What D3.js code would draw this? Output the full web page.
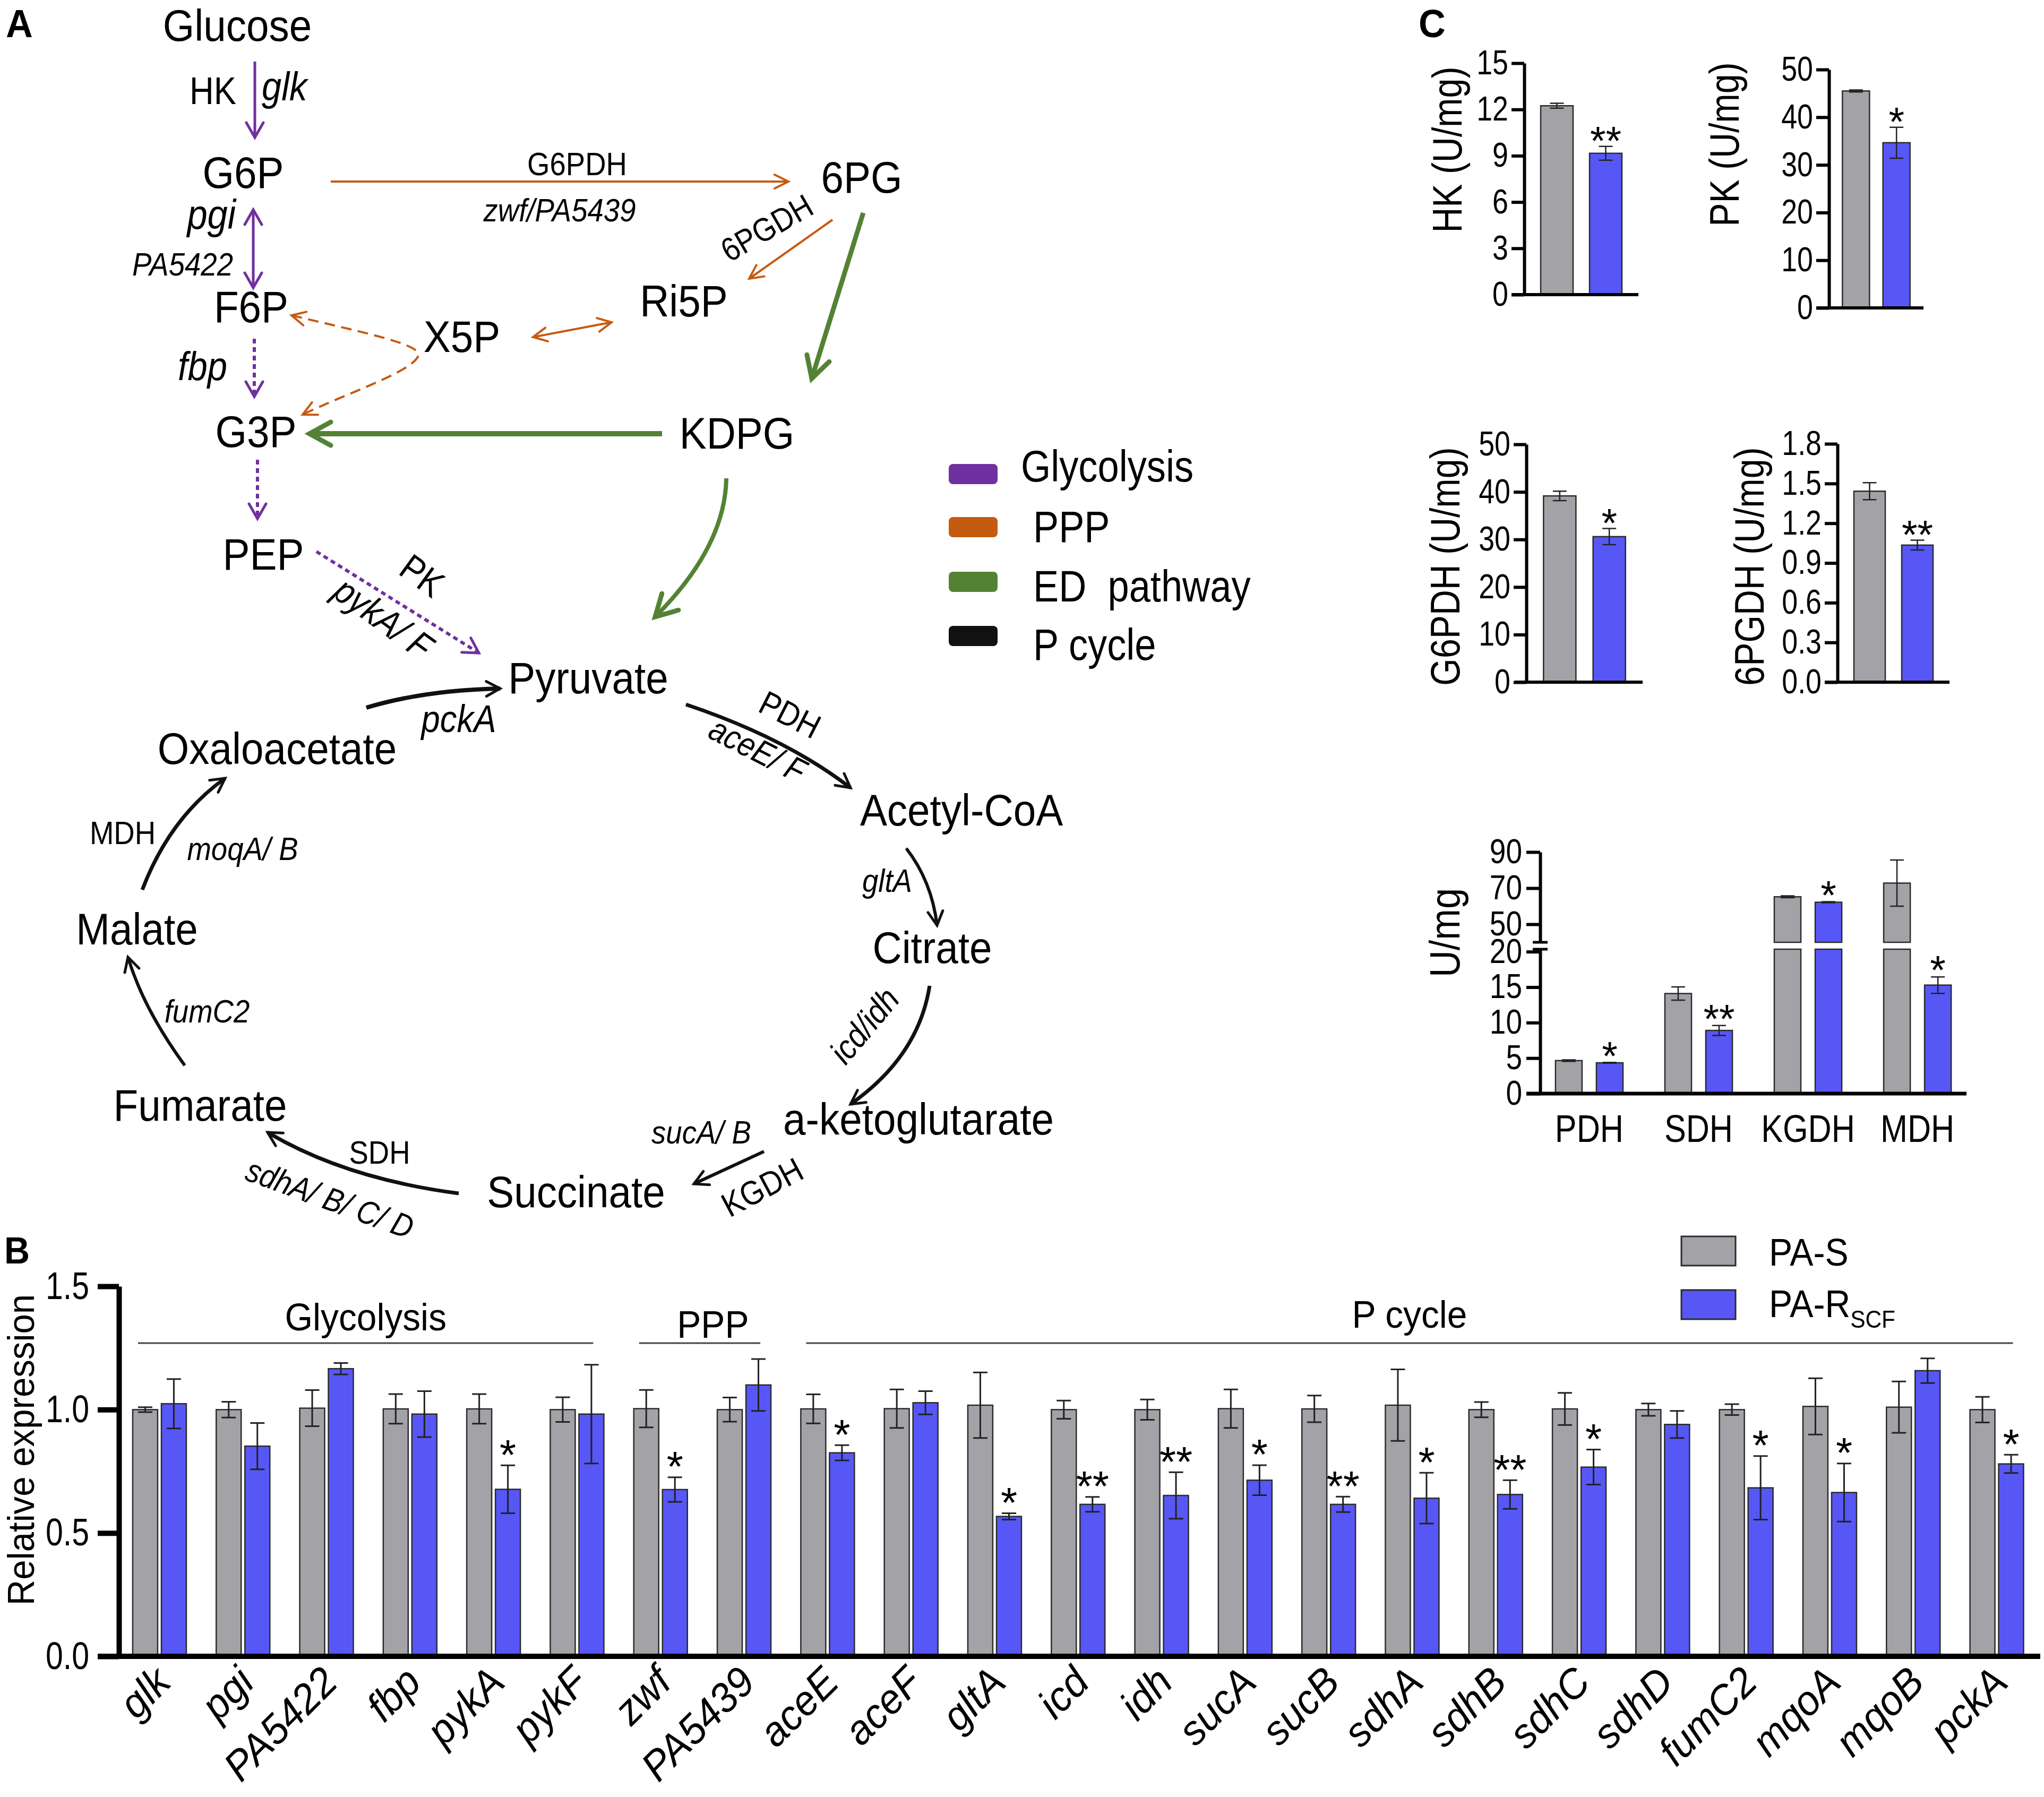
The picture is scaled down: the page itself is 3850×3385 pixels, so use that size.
<!DOCTYPE html>
<html><head><meta charset="utf-8">
<script src="https://cdn.jsdelivr.net/npm/d3@7"></script>
<style>
body{margin:0;background:#fff}
svg{display:block}
text{font-family:"Liberation Sans",Arial,Helvetica,sans-serif}
</style>
</head><body>
<svg id="fig" width="3850" height="3385"></svg>
<script>
// ---------------- DATA ----------------
// Panel B: relative expression
const genes = ["glk","pgi","PA5422","fbp","pykA","pykF","zwf","PA5439","aceE","aceF","gltA","icd","idh","sucA","sucB","sdhA","sdhB","sdhC","sdhD","fumC2","mqoA","mqoB","pckA"];
const series = ["PA-S","PA-R"];
const paS    = [1.0,1.0,1.006,1.003,1.003,1.0,1.004,1.0,1.003,1.004,1.018,1.0,1.0,1.004,1.003,1.018,1.0,1.003,1.0,1.0,1.013,1.01,1.0];
const paSErr = [0.01,0.032,0.073,0.06,0.06,0.05,0.076,0.049,0.059,0.078,0.133,0.037,0.041,0.078,0.054,0.145,0.031,0.065,0.025,0.022,0.114,0.104,0.052];
const paR    = [1.024,0.852,1.166,0.982,0.677,0.982,0.676,1.10,0.825,1.028,0.567,0.616,0.652,0.714,0.616,0.641,0.656,0.767,0.94,0.683,0.664,1.158,0.78];
const paRErr = [0.10,0.094,0.023,0.093,0.097,0.2,0.05,0.105,0.031,0.047,0.013,0.03,0.094,0.061,0.031,0.103,0.058,0.071,0.055,0.129,0.118,0.05,0.037];
const paRSig = ["","","","","*","","*","","*","","*","**","**","*","**","*","**","*","","*","*","","*"];
const bTicks = [0,0.5,1.0,1.5];
const bGroups = [["Glycolysis","glk","pykF"],["PPP","zwf","PA5439"],["P cycle","aceE","pckA"]];

// Panel C: enzyme activities (U/mg)
const cEnzymes = ["HK","PK","G6PDH","6PGDH"];
const cS    = [12.24,45.5,39.16,1.442];
const cSErr = [0.16,0.2,1.0,0.064];
const cR    = [9.16,34.65,30.6,1.035];
const cRErr = [0.45,3.25,1.7,0.037];
const cSig  = ["**","*","*","**"];
const cTicks = [[0,3,6,9,12,15],[0,10,20,30,40,50],[0,10,20,30,40,50],[0,0.3,0.6,0.9,1.2,1.5,1.8]];

const kCats = ["PDH","SDH","KGDH","MDH"];
const kS    = [4.65,14.1,65.2,72.8];
const kSErr = [0.1,0.93,0.5,12.8];
const kR    = [4.34,8.9,62.2,15.29];
const kRErr = [0.05,0.7,0.3,1.16];
const kSig  = ["*","**","*","*"];
const kLowTicks = [0,5,10,15,20];
const kUpTicks = [50,70,90];

// Panel A: pathway labels
const nodeNames = ["Glucose","G6P","6PG","F6P","X5P","Ri5P","G3P","KDPG","PEP","Pyruvate","Oxaloacetate","Acetyl-CoA","Citrate","Malate","a-ketoglutarate","Fumarate","Succinate"];
const legendA = ["Glycolysis","PPP","ED\u00a0 pathway","P cycle"];

// ---------------- STYLE / LAYOUT ----------------
const GRAY = "#a3a3a7", BLUE = "#5757f6", EDGE = "#2b2b2b";
const PURPLE = "#7030a0", ORANGE = "#c55a11", GREEN = "#548235", BLACK = "#111";
const svg = d3.select("#fig");
svg.append("rect").attr("width",3850).attr("height",3385).attr("fill","#fff");

function T(g, x, y, str, o = {}) {
  let tr = `translate(${x},${y})`;
  if (o.rot) tr += ` rotate(${o.rot})`;
  tr += ` scale(${o.sx ?? 0.9},1)`;
  const t = g.append("text").attr("transform", tr)
    .attr("font-size", o.size || 60)
    .attr("text-anchor", o.anchor || "middle")
    .attr("font-style", o.italic ? "italic" : "normal")
    .attr("font-weight", o.bold ? "bold" : "normal")
    .attr("fill", o.fill || "#000");
  if (o.dy) t.attr("dy", o.dy);
  t.text(str);
  return t;
}

// ---------------- MARKERS ----------------
const defs = svg.append("defs");
function marker(id, color, len, half, sw) {
  defs.append("marker").attr("id", id)
    .attr("viewBox", `${-sw} ${-sw} ${len + 2*sw} ${2*half + 2*sw}`)
    .attr("refX", len).attr("refY", half)
    .attr("markerWidth", len + 2*sw).attr("markerHeight", 2*half + 2*sw)
    .attr("markerUnits", "userSpaceOnUse")
    .attr("orient", "auto-start-reverse")
    .append("path").attr("d", `M0,0 L${len},${half} L0,${2*half}`)
    .attr("fill", "none").attr("stroke", color).attr("stroke-width", sw)
    .attr("stroke-dasharray", "none").attr("stroke-linecap", "round").attr("stroke-linejoin", "miter");
}
marker("mP", PURPLE, 28, 16, 5);
marker("mO", ORANGE, 26, 13, 4);
marker("mG", GREEN, 40, 22, 9);
marker("mK", BLACK, 26, 14, 5);

// ---------------- PANEL A ----------------
const gA = svg.append("g");
const nodePos = [[447,77],[458,354],[1623,363],[473,607],[870,663],[1288,596],[482,842],[1388,845],[496,1073],[1108,1306],[522,1439],[1811,1555],[1756,1814],[258,1779],[1730,2137],[377,2111],[1085,2274]];
nodeNames.forEach((n,i) => T(gA, nodePos[i][0], nodePos[i][1], n, {size:84, sx:0.91}));

const arrows = [
  // [path, color, width, marker, dash, double]
  ["M480,116 L480,259", PURPLE, 5, "mP", null, false],
  ["M623,342 L1485,342", ORANGE, 4, "mO", null, false],
  ["M1568,414 L1411,525", ORANGE, 4, "mO", null, false],
  ["M1626,401 L1529,713", GREEN, 9, "mG", null, false],
  ["M477,395 L477,542", PURPLE, 5, "mP", null, true],
  ["M479,638 L479,747", PURPLE, 6, "mP", "9,7", false],
  ["M549,594 C700,630 800,650 787,672 C772,702 650,742 570,781", ORANGE, 4, "mO", "20,12", true],
  ["M1004,635 L1152,607", ORANGE, 4, "mO", null, true],
  ["M1247,817 L583,817", GREEN, 10, "mG", null, false],
  ["M485,866 L485,977", PURPLE, 6, "mP", "9,7", false],
  ["M1368,901 Q1366,1030 1234,1162", GREEN, 8, "mG", null, false],
  ["M596,1039 L902,1230", PURPLE, 6, "mP", "9,7", false],
  ["M690,1333 Q800,1300 942,1297", BLACK, 8, "mK", null, false],
  ["M1292,1327 Q1480,1390 1602,1484", BLACK, 7, "mK", null, false],
  ["M1707,1598 Q1755,1660 1765,1743", BLACK, 6, "mK", null, false],
  ["M1751,1857 Q1730,1990 1602,2080", BLACK, 7, "mK", null, false],
  ["M1439,2169 L1307,2230", BLACK, 6, "mK", null, false],
  ["M864,2248 Q650,2220 504,2133", BLACK, 7, "mK", null, false],
  ["M348,2007 Q270,1900 241,1803", BLACK, 6, "mK", null, false],
  ["M268,1676 Q320,1540 424,1466", BLACK, 7, "mK", null, false]
];
arrows.forEach(a => {
  const p = gA.append("path").attr("d", a[0]).attr("fill","none").attr("stroke", a[1])
    .attr("stroke-width", a[2]).attr("marker-end", `url(#${a[3]})`);
  if (a[4]) p.attr("stroke-dasharray", a[4]);
  if (a[5]) p.attr("marker-start", `url(#${a[3]})`);
});

// enzyme / gene labels [text, x, y, italic, rot, anchor, size]
const enzLabels = [
  ["HK",401,196,false,0,"middle",72],
  ["glk",493,189,true,0,"start",76],
  ["G6PDH",1087,330,false,0,"middle",62],
  ["zwf/PA5439",1054,417,true,0,"middle",62],
  ["6PGDH",1455,448,false,-30,"middle",62],
  ["pgi",444,431,true,0,"end",78],
  ["PA5422",439,519,true,0,"end",62],
  ["fbp",428,716,true,0,"end",76],
  ["PK",781,1104,false,36,"middle",70],
  ["pykA/ F",708,1184,true,36,"middle",70],
  ["pckA",864,1379,true,0,"middle",72],
  ["PDH",1478,1366,false,27,"middle",64],
  ["aceE/ F",1417,1432,true,27,"middle",64],
  ["gltA",1671,1680,true,0,"middle",62],
  ["icd/idh",1645,1946,true,-50,"middle",64],
  ["sucA/ B",1321,2154,true,0,"middle",62],
  ["KGDH",1446,2256,false,-28,"middle",64],
  ["SDH",715,2192,false,0,"middle",62],
  ["sdhA/ B/ C/ D",614,2278,true,20,"middle",62],
  ["fumC2",390,1926,true,0,"middle",62],
  ["MDH",231,1590,false,0,"middle",62],
  ["moqA/ B",457,1620,true,0,"middle",62]
];
enzLabels.forEach(l => T(gA, l[1], l[2], l[0], {size:l[6], sx:0.88, italic:l[3], rot:l[4], anchor:l[5]}));

// Legend A
const legACol = [PURPLE, ORANGE, GREEN, BLACK];
const legAY = [874, 974, 1077, 1179];
const legATX = [1923, 1946, 1946, 1946];
const legATY = [907, 1021, 1133, 1243];
legendA.forEach((n,i) => {
  gA.append("rect").attr("x", 1787).attr("y", legAY[i]).attr("width", 92).attr("height", 38)
    .attr("rx", 8).attr("fill", legACol[i]);
  T(gA, legATX[i], legATY[i], n, {size:84, sx:0.86, anchor:"start"});
});

// ---------------- PANEL B ----------------
const gB = svg.append("g");
const yB = d3.scaleLinear().domain([0,1.5]).range([3120,2423]);
const xB = d3.scaleBand().domain(genes).range([224,3837.5]).paddingInner(0.358).paddingOuter(0.165);
const xBs = d3.scaleBand().domain(series).range([0, xB.bandwidth()]).paddingInner(0.13);
const recB = genes.flatMap((g,i) => [
  {g, s:"PA-S", v:paS[i], e:paSErr[i], sig:""},
  {g, s:"PA-R", v:paR[i], e:paRErr[i], sig:paRSig[i]}
]);
function drawBars(g, recs, xOuter, xInner, y, capW, sw, starSize, starGap) {
  const bw = xInner.bandwidth();
  recs.forEach(r => {
    const x = xOuter(r.g) + xInner(r.s);
    const cx = x + bw/2;
    g.append("rect").attr("x", x).attr("y", y(r.v)).attr("width", bw)
      .attr("height", y.range()[0] - y(r.v))
      .attr("fill", r.s === "PA-S" ? GRAY : BLUE).attr("stroke", EDGE).attr("stroke-width", 2.5);
    const y1 = y(r.v + r.e), y2 = y(r.v - r.e);
    g.append("path").attr("d", `M${cx},${y1}V${y2}M${cx-capW/2},${y1}H${cx+capW/2}M${cx-capW/2},${y2}H${cx+capW/2}`)
      .attr("stroke", "#222").attr("stroke-width", sw).attr("fill","none");
    if (r.sig) T(g, cx, y1 - starGap + 0.57*starSize, r.sig, {size:starSize, sx:1});
  });
}
drawBars(gB, recB, xB, xBs, yB, 27, 3, 80, 38);

// axes B
const axB = gB.append("g").attr("transform","translate(224,0)")
  .call(d3.axisLeft(yB).tickValues(bTicks).tickFormat(d3.format(".1f")).tickSize(40).tickSizeOuter(0).tickPadding(14));
axB.select(".domain").attr("stroke-width",10).attr("stroke","#000");
axB.selectAll(".tick line").attr("stroke-width",10).attr("stroke","#000");
axB.selectAll(".tick text").attr("font-size",72).attr("font-family",null).attr("fill","#000")
  .attr("transform","scale(0.82,1)").attr("x", -56/0.82);
gB.append("line").attr("x1",184).attr("x2",3843).attr("y1",3120).attr("y2",3120).attr("stroke","#000").attr("stroke-width",10);
T(gB, 64, 2731, "Relative expression", {size:70, sx:0.96, rot:-90});

// gene labels
genes.forEach(g => T(gB, xB(g) + xB.bandwidth()/2 + 25, 3173, g, {size:78, sx:0.97, italic:true, rot:-45, anchor:"end"}));

// group lines and labels
const grpY = [2506, 2520, 2501];
bGroups.forEach((gr,i) => {
  const x1 = xB(gr[1]) + 10, x2 = xB(gr[2]) + xB.bandwidth() - 20;
  gB.append("line").attr("x1",x1).attr("x2",x2).attr("y1",2530).attr("y2",2530).attr("stroke","#444").attr("stroke-width",3);
  T(gB, (x1+x2)/2 + (i===1?25:0), grpY[i], gr[0], {size:72, sx:0.94});
});

// legend B
gB.append("rect").attr("x",3167).attr("y",2329).attr("width",102).attr("height",55).attr("fill",GRAY).attr("stroke",EDGE).attr("stroke-width",3);
gB.append("rect").attr("x",3167).attr("y",2430).attr("width",102).attr("height",55).attr("fill",BLUE).attr("stroke",EDGE).attr("stroke-width",3);
T(gB, 3332, 2384, "PA-S", {size:72, sx:0.92, anchor:"start"});
const lr = T(gB, 3332, 2481, "PA-R", {size:72, sx:0.92, anchor:"start"});
lr.append("tspan").attr("font-size",46).attr("dy",20).text("SCF");

// ---------------- PANEL C ----------------
const gC = svg.append("g");
const cLayout = [
  {ax:2871, x1:3086, xs:2847, y0:555, yt:119, pad:0.337, lx:2725, ly:282},
  {ax:3445, x1:3623, xs:3421, y0:580, yt:131, pad:0.332, lx:3247, ly:272},
  {ax:2875, x1:3094, xs:2853, y0:1285, yt:837, pad:0.346, lx:2721, ly:1067},
  {ax:3461, x1:3672, xs:3437, y0:1285, yt:836, pad:0.344, lx:3294, ly:1067}
];
function styleAxis(ax, w, size, off, sx) {
  ax.select(".domain").attr("stroke-width",w).attr("stroke","#000");
  ax.selectAll(".tick line").attr("stroke-width",w).attr("stroke","#000");
  ax.selectAll(".tick text").attr("font-size",size).attr("font-family",null).attr("fill","#000")
    .attr("transform",`scale(${sx},1)`).attr("x", -off/sx);
}
cEnzymes.forEach((e,i) => {
  const L = cLayout[i];
  const y = d3.scaleLinear().domain([0, cTicks[i][cTicks[i].length-1]]).range([L.y0, L.yt]);
  const xs = d3.scaleBand().domain(series).range([L.ax, L.x1]).padding(L.pad);
  const xo = () => 0;
  drawBars(gC, [{g:e, s:"PA-S", v:cS[i], e:cSErr[i], sig:""},{g:e, s:"PA-R", v:cR[i], e:cRErr[i], sig:cSig[i]}],
    xo, xs, y, 26, 2.5, 76, 28);
  const ax = gC.append("g").attr("transform",`translate(${L.ax},0)`)
    .call(d3.axisLeft(y).tickValues(cTicks[i]).tickFormat(i===3 ? d3.format(".1f") : d3.format("d")).tickSize(24).tickSizeOuter(0));
  styleAxis(ax, 6, 64, 30, 0.84);
  gC.append("line").attr("x1",L.xs).attr("x2",L.x1).attr("y1",L.y0).attr("y2",L.y0).attr("stroke","#000").attr("stroke-width",6);
  T(gC, L.lx, L.ly, `${e} (U/mg)`, {size:78, sx:0.85, rot:-90, dy:"0.36em"});
});

// broken-axis chart
const yLow = d3.scaleLinear().domain([0,20.35]).range([2060,1788]);
const yUp = d3.scaleLinear().domain([40,90]).range([1775,1605]);
const yK = v => v <= 20.35 ? yLow(v) : yUp(v);
const xK = d3.scaleBand().domain(kCats).range([2901,3704]).paddingInner(0.383).paddingOuter(0.14);
const xKs = d3.scaleBand().domain(series).range([0, xK.bandwidth()]).paddingInner(0.35);
const recK = kCats.flatMap((c,i) => [
  {g:c, s:"PA-S", v:kS[i], e:kSErr[i], sig:""},
  {g:c, s:"PA-R", v:kR[i], e:kRErr[i], sig:kSig[i]}
]);
recK.forEach(r => {
  const bw = xKs.bandwidth();
  const x = xK(r.g) + xKs(r.s), cx = x + bw/2;
  const fill = r.s === "PA-S" ? GRAY : BLUE;
  if (r.v <= 20.35) {
    gC.append("rect").attr("x",x).attr("y",yLow(r.v)).attr("width",bw).attr("height",2060-yLow(r.v))
      .attr("fill",fill).attr("stroke",EDGE).attr("stroke-width",2.5);
  } else {
    gC.append("rect").attr("x",x).attr("y",1788).attr("width",bw).attr("height",2060-1788)
      .attr("fill",fill).attr("stroke",EDGE).attr("stroke-width",2.5);
    gC.append("rect").attr("x",x).attr("y",yUp(r.v)).attr("width",bw).attr("height",1775-yUp(r.v))
      .attr("fill",fill).attr("stroke",EDGE).attr("stroke-width",2.5);
  }
  const y1 = yK(r.v + r.e), y2 = yK(r.v - r.e);
  gC.append("path").attr("d",`M${cx},${y1}V${y2}M${cx-13},${y1}H${cx+13}M${cx-13},${y2}H${cx+13}`)
    .attr("stroke","#222").attr("stroke-width",2.5).attr("fill","none");
  if (r.sig) T(gC, cx, y1 - 30 + 0.57*76, r.sig, {size:76, sx:1});
});
const axLow = gC.append("g").attr("transform","translate(2901,0)")
  .call(d3.axisLeft(yLow).tickValues(kLowTicks).tickFormat(d3.format("d")).tickSize(26).tickSizeOuter(0));
styleAxis(axLow, 6, 64, 34, 0.86);
const axUp = gC.append("g").attr("transform","translate(2901,0)")
  .call(d3.axisLeft(yUp).tickValues(kUpTicks).tickFormat(d3.format("d")).tickSize(26).tickSizeOuter(0));
styleAxis(axUp, 6, 64, 34, 0.86);
[1775,1788].forEach(yy => gC.append("line").attr("x1",2887).attr("x2",2915).attr("y1",yy).attr("y2",yy).attr("stroke","#000").attr("stroke-width",5));
gC.append("line").attr("x1",2875).attr("x2",3704).attr("y1",2060).attr("y2",2060).attr("stroke","#000").attr("stroke-width",7);
kCats.forEach(c => T(gC, xK(c) + xK.bandwidth()/2, 2151, c, {size:72, sx:0.85}));
T(gC, 2720, 1757, "U/mg", {size:80, sx:0.88, rot:-90, dy:"0.36em"});

// ---------------- PANEL LETTERS ----------------
T(svg, 11, 70, "A", {size:74, sx:0.95, bold:true, anchor:"start"});
T(svg, 8, 2380, "B", {size:70, sx:0.95, bold:true, anchor:"start"});
T(svg, 2672, 70, "C", {size:74, sx:0.95, bold:true, anchor:"start"});
</script>
</body></html>
